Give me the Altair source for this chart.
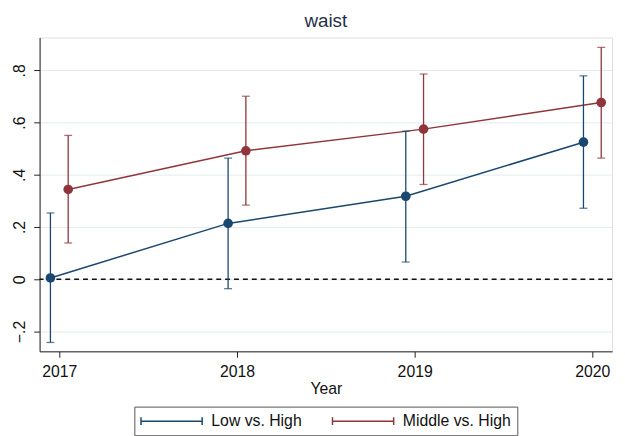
import altair as alt
import pandas as pd

years = [2017, 2018, 2019, 2020]
series_names = ["Low vs. High", "Middle vs. High"]
offsets = [-0.05, 0.05]

low_est = [0.005, 0.214, 0.318, 0.525]
low_lo = [-0.242, -0.036, 0.066, 0.272]
low_hi = [0.254, 0.464, 0.567, 0.779]

mid_est = [0.344, 0.492, 0.575, 0.677]
mid_lo = [0.139, 0.284, 0.363, 0.464]
mid_hi = [0.551, 0.701, 0.786, 0.888]

y_ticks = [-0.2, 0.0, 0.2, 0.4, 0.6, 0.8]

rows = []
for name, off, est, lo, hi in [
    (series_names[0], offsets[0], low_est, low_lo, low_hi),
    (series_names[1], offsets[1], mid_est, mid_lo, mid_hi),
]:
    for yr, e, l, h in zip(years, est, lo, hi):
        rows.append({"year": yr, "xpos": yr + off, "series": name, "est": e, "lo": l, "hi": h})
df = pd.DataFrame(rows)

BLUE = "#1a476f"
RED = "#90353b"
FONT = "Liberation Sans"

color_scale = alt.Scale(domain=series_names, range=[BLUE, RED])
x_scale = alt.Scale(domain=[2016.889, 2020.111], nice=False, zero=False)
y_scale = alt.Scale(domain=[-0.276, 0.926], nice=False, zero=False)

x_enc = alt.X(
    "xpos:Q",
    scale=x_scale,
    axis=alt.Axis(
        values=years, format="d", title="Year", grid=False,
        labelFontSize=16, titleFontSize=16, labelPadding=6, titlePadding=2,
        tickSize=6, labelFont=FONT, titleFont=FONT, titleFontWeight="normal",
        labelColor="#111", titleColor="#111", domainColor="#222", tickColor="#222",
    ),
)
y_axis = alt.Axis(
    values=y_ticks, title=None, grid=True, gridColor="#e3ebef", gridWidth=1,
    labelAngle=-90, labelAlign="center", labelBaseline="bottom",
    labelExpr="datum.value == 0 ? '0' : replace(format(datum.value, '.1f'), '0.', '.')",
    labelFontSize=16, labelPadding=6, tickSize=6, labelFont=FONT,
    labelColor="#111", domainColor="#222", tickColor="#222",
)

legend_symbol = "M -1 0 L 7 0 M -1 -0.5 L -1 0.5 M 7 -0.5 L 7 0.5"

base = alt.Chart(df)

lines = base.mark_line(strokeWidth=1.5).encode(
    x=x_enc,
    y=alt.Y("est:Q", scale=y_scale, axis=y_axis),
    color=alt.Color(
        "series:N", scale=color_scale,
        legend=alt.Legend(
            title=None, orient="none", legendX=96, legendY=374, direction="horizontal",
            symbolType=legend_symbol, symbolSize=240, symbolStrokeWidth=1.5,
            labelOffset=55, columnPadding=27, padding=6, strokeColor="#555",
            labelFontSize=16, labelFont=FONT, labelColor="#111",
        ),
    ),
    detail="series:N",
)

whiskers = base.mark_rule(strokeWidth=1.3).encode(
    x="xpos:Q", y="lo:Q", y2="hi:Q",
    color=alt.Color("series:N", scale=color_scale, legend=None),
)
caps_lo = base.mark_tick(orient="horizontal", size=8, thickness=1.3).encode(
    x="xpos:Q", y="lo:Q",
    color=alt.Color("series:N", scale=color_scale, legend=None),
)
caps_hi = base.mark_tick(orient="horizontal", size=8, thickness=1.3).encode(
    x="xpos:Q", y="hi:Q",
    color=alt.Color("series:N", scale=color_scale, legend=None),
)
points = base.mark_point(filled=True, size=95, opacity=1).encode(
    x="xpos:Q", y="est:Q",
    color=alt.Color("series:N", scale=color_scale, legend=None),
)
zero_line = alt.Chart(pd.DataFrame({"z": [0.0]})).mark_rule(
    color="#111", strokeWidth=1.5, strokeDash=[5, 4]
).encode(y="z:Q")

chart = (
    alt.layer(zero_line, lines, whiskers, caps_lo, caps_hi, points)
    .properties(
        width=580, height=318,
        title=alt.TitleParams(
            "waist", fontSize=19, font=FONT, fontWeight="normal",
            color="#1f3147", anchor="middle", offset=7,
        ),
        autosize=alt.AutoSizeParams(type="none"),
        padding={"left": 32, "top": 27, "right": 5, "bottom": 90},
    )
    .configure_view(stroke=None)
    .configure(background="white")
)

chart.save("out.html", embed_options={"renderer": "svg", "actions": False})
